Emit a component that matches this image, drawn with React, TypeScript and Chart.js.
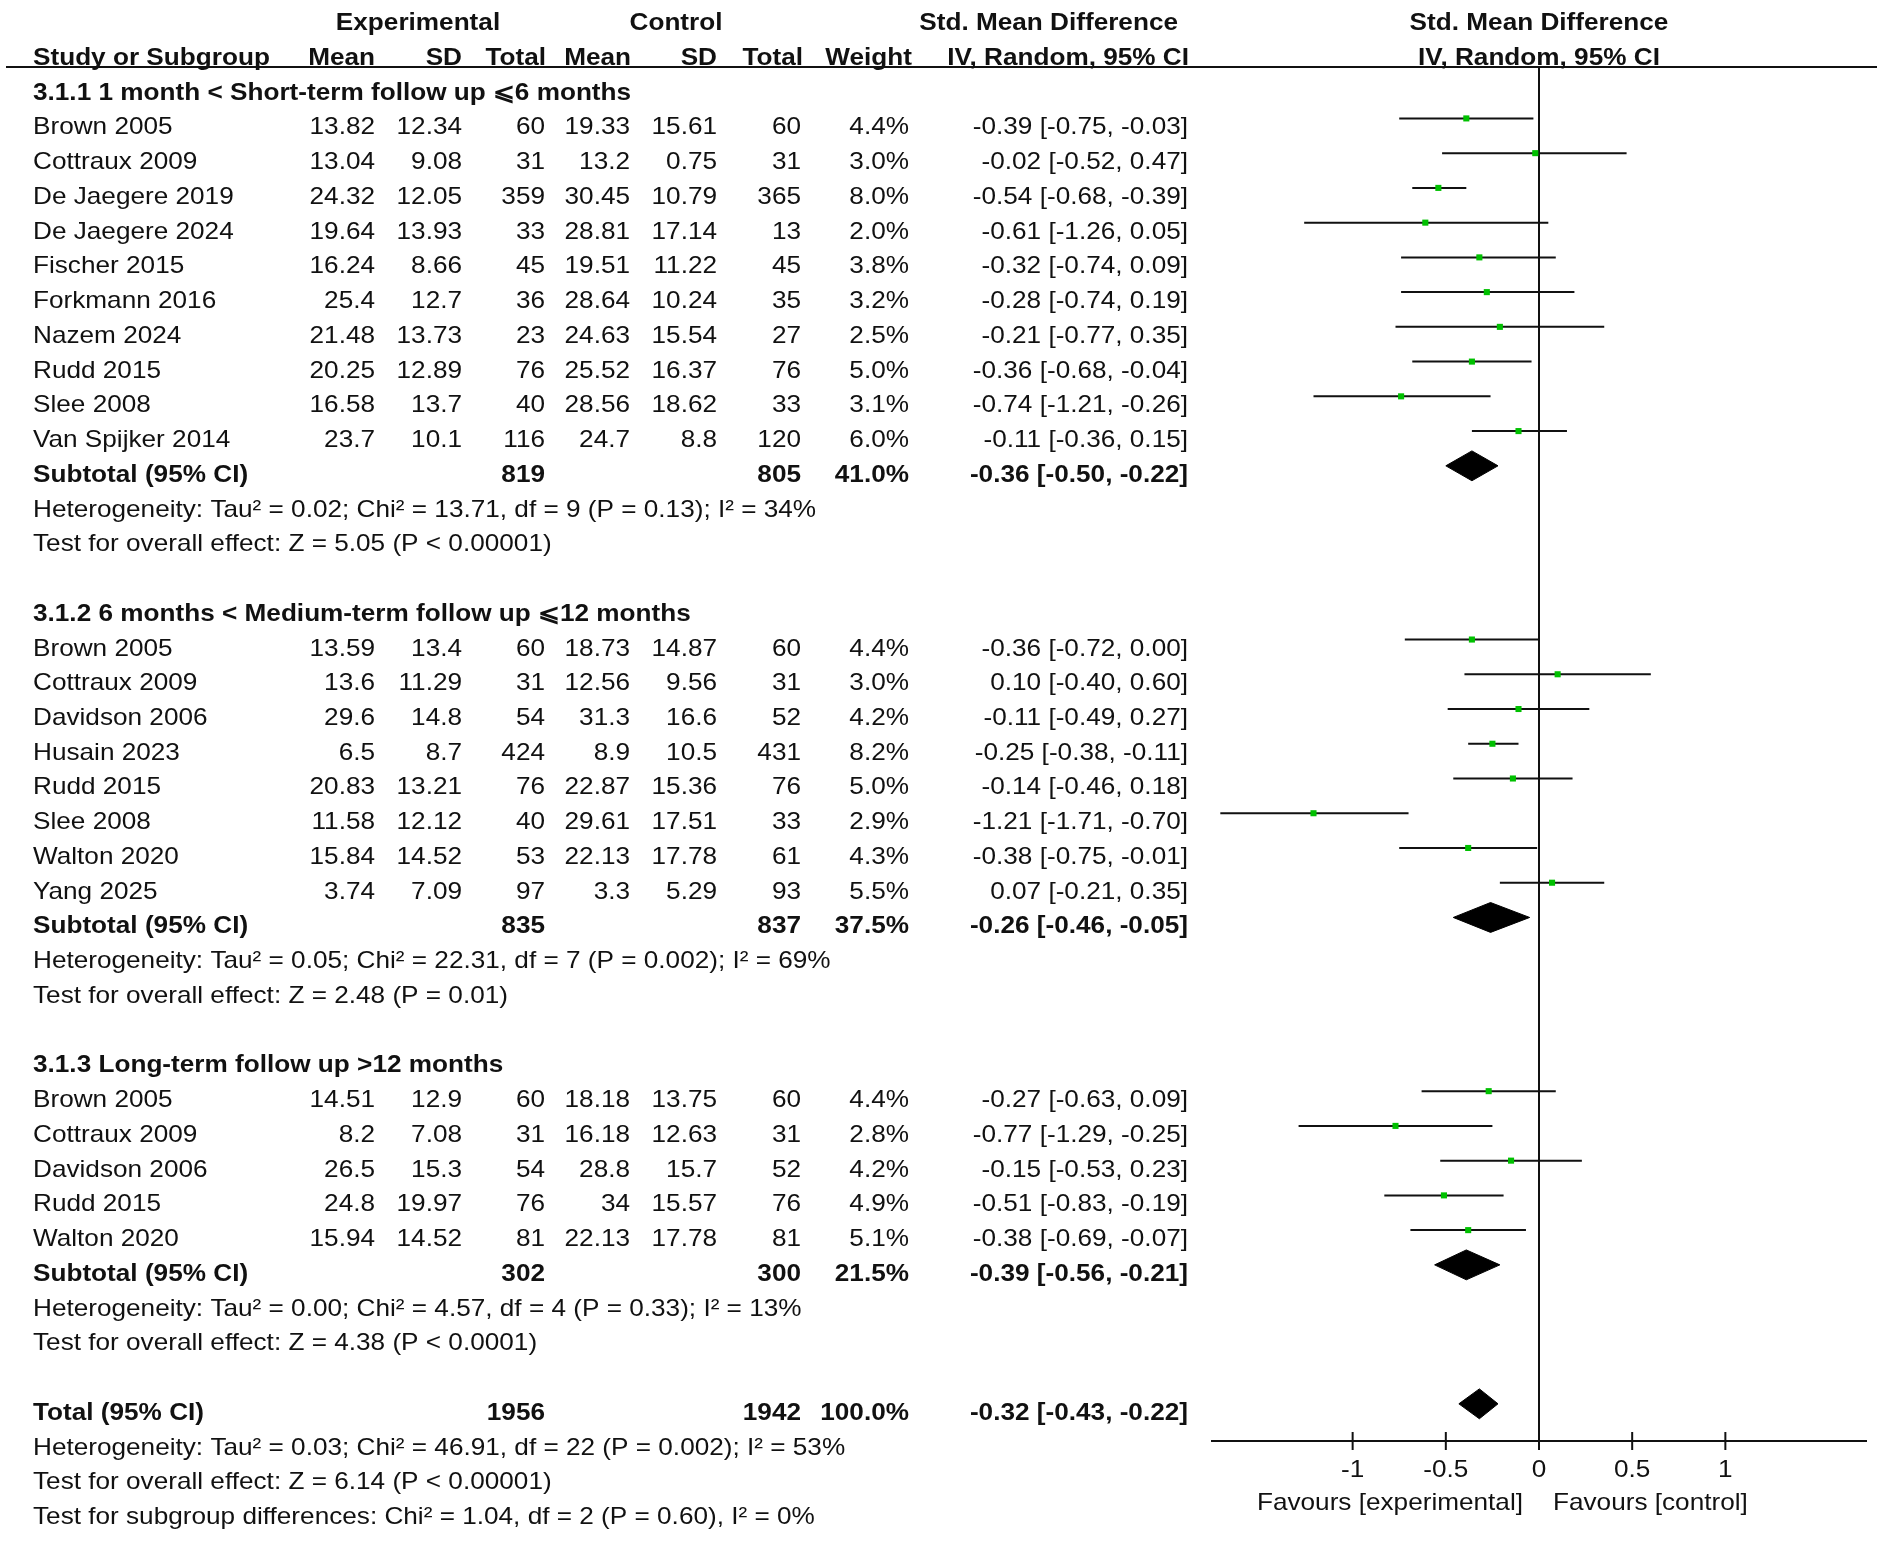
import React, { useEffect, useRef } from "react";
import { Chart, registerables } from "chart.js";

Chart.register(...registerables);

const W = 1901;
const H = 1544;

// ---------------- DATA ----------------
const groupTitles = [
  "3.1.1 1 month < Short-term follow up ⩽6 months",
  "3.1.2 6 months < Medium-term follow up ⩽12 months",
  "3.1.3 Long-term follow up >12 months",
];

const studyNames = [
  "Brown 2005", "Cottraux 2009", "De Jaegere 2019", "De Jaegere 2024", "Fischer 2015",
  "Forkmann 2016", "Nazem 2024", "Rudd 2015", "Slee 2008", "Van Spijker 2014",
  "Brown 2005", "Cottraux 2009", "Davidson 2006", "Husain 2023", "Rudd 2015",
  "Slee 2008", "Walton 2020", "Yang 2025",
  "Brown 2005", "Cottraux 2009", "Davidson 2006", "Rudd 2015", "Walton 2020",
];
const studyGroup = [0, 0, 0, 0, 0, 0, 0, 0, 0, 0, 1, 1, 1, 1, 1, 1, 1, 1, 2, 2, 2, 2, 2];

const expMean = [13.82, 13.04, 24.32, 19.64, 16.24, 25.4, 21.48, 20.25, 16.58, 23.7,
  13.59, 13.6, 29.6, 6.5, 20.83, 11.58, 15.84, 3.74,
  14.51, 8.2, 26.5, 24.8, 15.94];
const expSD = [12.34, 9.08, 12.05, 13.93, 8.66, 12.7, 13.73, 12.89, 13.7, 10.1,
  13.4, 11.29, 14.8, 8.7, 13.21, 12.12, 14.52, 7.09,
  12.9, 7.08, 15.3, 19.97, 14.52];
const expTotal = [60, 31, 359, 33, 45, 36, 23, 76, 40, 116,
  60, 31, 54, 424, 76, 40, 53, 97,
  60, 31, 54, 76, 81];
const ctlMean = [19.33, 13.2, 30.45, 28.81, 19.51, 28.64, 24.63, 25.52, 28.56, 24.7,
  18.73, 12.56, 31.3, 8.9, 22.87, 29.61, 22.13, 3.3,
  18.18, 16.18, 28.8, 34, 22.13];
const ctlSD = [15.61, 0.75, 10.79, 17.14, 11.22, 10.24, 15.54, 16.37, 18.62, 8.8,
  14.87, 9.56, 16.6, 10.5, 15.36, 17.51, 17.78, 5.29,
  13.75, 12.63, 15.7, 15.57, 17.78];
const ctlTotal = [60, 31, 365, 13, 45, 35, 27, 76, 33, 120,
  60, 31, 52, 431, 76, 33, 61, 93,
  60, 31, 52, 76, 81];
const weightPct = [4.4, 3.0, 8.0, 2.0, 3.8, 3.2, 2.5, 5.0, 3.1, 6.0,
  4.4, 3.0, 4.2, 8.2, 5.0, 2.9, 4.3, 5.5,
  4.4, 2.8, 4.2, 4.9, 5.1];
const smd = [-0.39, -0.02, -0.54, -0.61, -0.32, -0.28, -0.21, -0.36, -0.74, -0.11,
  -0.36, 0.10, -0.11, -0.25, -0.14, -1.21, -0.38, 0.07,
  -0.27, -0.77, -0.15, -0.51, -0.38];
const ciLow = [-0.75, -0.52, -0.68, -1.26, -0.74, -0.74, -0.77, -0.68, -1.21, -0.36,
  -0.72, -0.40, -0.49, -0.38, -0.46, -1.71, -0.75, -0.21,
  -0.63, -1.29, -0.53, -0.83, -0.69];
const ciHigh = [-0.03, 0.47, -0.39, 0.05, 0.09, 0.19, 0.35, -0.04, -0.26, 0.15,
  0.00, 0.60, 0.27, -0.11, 0.18, -0.70, -0.01, 0.35,
  0.09, -0.25, 0.23, -0.19, -0.07];

const subExpTotal = [819, 835, 302];
const subCtlTotal = [805, 837, 300];
const subWeight = [41.0, 37.5, 21.5];
const subSmd = [-0.36, -0.26, -0.39];
const subLow = [-0.50, -0.46, -0.56];
const subHigh = [-0.22, -0.05, -0.21];
const subHeterogeneity = [
  "Heterogeneity: Tau² = 0.02; Chi² = 13.71, df = 9 (P = 0.13); I² = 34%",
  "Heterogeneity: Tau² = 0.05; Chi² = 22.31, df = 7 (P = 0.002); I² = 69%",
  "Heterogeneity: Tau² = 0.00; Chi² = 4.57, df = 4 (P = 0.33); I² = 13%",
];
const subOverall = [
  "Test for overall effect: Z = 5.05 (P < 0.00001)",
  "Test for overall effect: Z = 2.48 (P = 0.01)",
  "Test for overall effect: Z = 4.38 (P < 0.0001)",
];

const totalExp = 1956;
const totalCtl = 1942;
const totalWeight = 100.0;
const totalSmd = -0.32;
const totalLow = -0.43;
const totalHigh = -0.22;
const totalNotes = [
  "Heterogeneity: Tau² = 0.03; Chi² = 46.91, df = 22 (P = 0.002); I² = 53%",
  "Test for overall effect: Z = 6.14 (P < 0.00001)",
  "Test for subgroup differences: Chi² = 1.04, df = 2 (P = 0.60), I² = 0%",
];

const axisTicks = [-1, -0.5, 0, 0.5, 1];
const favourLabels = ["Favours [experimental]", "Favours [control]"];
const headerGroups = ["Experimental", "Control", "Std. Mean Difference"];
const headerCols = ["Study or Subgroup", "Mean", "SD", "Total", "Mean", "SD", "Total", "Weight", "IV, Random, 95% CI"];

// ---------------- LAYOUT (row indices) ----------------
type Row =
  | { kind: "title"; line: number; text: string }
  | { kind: "study"; line: number; i: number }
  | { kind: "sub"; line: number; g: number }
  | { kind: "note"; line: number; text: string }
  | { kind: "total"; line: number };

const rows: Row[] = [];
let ln = 0;
for (let g = 0; g < groupTitles.length; g++) {
  rows.push({ kind: "title", line: ln++, text: groupTitles[g] });
  studyNames.forEach((_, i) => {
    if (studyGroup[i] === g) rows.push({ kind: "study", line: ln++, i });
  });
  rows.push({ kind: "sub", line: ln++, g });
  rows.push({ kind: "note", line: ln++, text: subHeterogeneity[g] });
  rows.push({ kind: "note", line: ln++, text: subOverall[g] });
  ln++;
}
rows.push({ kind: "total", line: ln++ });
totalNotes.forEach((t) => rows.push({ kind: "note", line: ln++, text: t }));

const studyLine = (i: number) => (rows.find((r) => r.kind === "study" && (r as any).i === i) as Row).line;
const subLine = (g: number) => (rows.find((r) => r.kind === "sub" && (r as any).g === g) as Row).line;
const totalLine = (rows.find((r) => r.kind === "total") as Row).line;

const fmtCI = (e: number, l: number, h: number) => `${e.toFixed(2)} [${l.toFixed(2)}, ${h.toFixed(2)}]`;

// ---------------- STYLE ----------------
const FONT = '"Liberation Sans", Arial, Helvetica, sans-serif';
const FS = 24;
const SX = 1.09;
const TXT = "#111111";
const GREEN = "#00c000";
const DIAMOND_H = 0.43;
const BASE_OFF = 16;
const colRight = [375, 462, 545, 630, 717, 801, 909, 1188];
const headRight = [375, 462, 546, 631, 717, 803, 912, 1189];
const LEFT = 33;

function drawText(ctx: CanvasRenderingContext2D, s: string, x: number, y: number, align: CanvasTextAlign, bold = false) {
  ctx.save();
  ctx.font = `${bold ? "bold " : ""}${FS}px ${FONT}`;
  ctx.fillStyle = TXT;
  ctx.textAlign = align;
  ctx.textBaseline = "alphabetic";
  ctx.translate(x, y);
  ctx.scale(SX, 1);
  ctx.fillText(s, 0, 0);
  ctx.restore();
}

const forestPlugin = {
  id: "forestTable",
  beforeDatasetsDraw(chart: any) {
    const { ctx, chartArea } = chart;
    const xs = chart.scales.x;
    const x0 = xs.getPixelForValue(0);
    ctx.save();
    ctx.strokeStyle = "#111";
    ctx.lineWidth = 2;
    // header rule
    ctx.beginPath();
    ctx.moveTo(6, chartArea.top);
    ctx.lineTo(1877, chartArea.top);
    ctx.stroke();
    // zero line
    ctx.beginPath();
    ctx.moveTo(x0, chartArea.top);
    ctx.lineTo(x0, chartArea.bottom);
    ctx.stroke();
    // axis
    ctx.beginPath();
    ctx.moveTo(chartArea.left, chartArea.bottom);
    ctx.lineTo(chartArea.right, chartArea.bottom);
    ctx.stroke();
    axisTicks.forEach((t) => {
      const px = xs.getPixelForValue(t);
      ctx.beginPath();
      ctx.moveTo(px, chartArea.bottom - 9);
      ctx.lineTo(px, chartArea.bottom + 9);
      ctx.stroke();
    });
    ctx.restore();
  },
  afterDraw(chart: any) {
    const { ctx, chartArea } = chart;
    const xs = chart.scales.x;
    const ys = chart.scales.y;
    const x0 = xs.getPixelForValue(0);
    const yb = (line: number) => ys.getPixelForValue(line) + BASE_OFF;

    // headers
    drawText(ctx, headerGroups[0], 418, yb(-2), "center", true);
    drawText(ctx, headerGroups[1], 676, yb(-2), "center", true);
    drawText(ctx, headerGroups[2], 1178, yb(-2), "right", true);
    drawText(ctx, headerGroups[2], x0, yb(-2), "center", true);
    drawText(ctx, headerCols[0], LEFT, yb(-1), "left", true);
    for (let c = 1; c < headerCols.length; c++) {
      drawText(ctx, headerCols[c], headRight[c - 1], yb(-1), "right", true);
    }
    drawText(ctx, headerCols[8], x0, yb(-1), "center", true);

    rows.forEach((r) => {
      const y = yb(r.line);
      if (r.kind === "title") {
        drawText(ctx, r.text, LEFT, y, "left", true);
      } else if (r.kind === "note") {
        drawText(ctx, r.text, LEFT, y, "left", false);
      } else if (r.kind === "study") {
        const i = r.i;
        drawText(ctx, studyNames[i], LEFT, y, "left");
        const vals = [
          String(expMean[i]), String(expSD[i]), String(expTotal[i]),
          String(ctlMean[i]), String(ctlSD[i]), String(ctlTotal[i]),
          `${weightPct[i].toFixed(1)}%`, fmtCI(smd[i], ciLow[i], ciHigh[i]),
        ];
        vals.forEach((v, c) => drawText(ctx, v, colRight[c], y, "right"));
      } else if (r.kind === "sub") {
        const g = r.g;
        drawText(ctx, "Subtotal (95% CI)", LEFT, y, "left", true);
        drawText(ctx, String(subExpTotal[g]), colRight[2], y, "right", true);
        drawText(ctx, String(subCtlTotal[g]), colRight[5], y, "right", true);
        drawText(ctx, `${subWeight[g].toFixed(1)}%`, colRight[6], y, "right", true);
        drawText(ctx, fmtCI(subSmd[g], subLow[g], subHigh[g]), colRight[7], y, "right", true);
      } else if (r.kind === "total") {
        drawText(ctx, "Total (95% CI)", LEFT, y, "left", true);
        drawText(ctx, String(totalExp), colRight[2], y, "right", true);
        drawText(ctx, String(totalCtl), colRight[5], y, "right", true);
        drawText(ctx, `${totalWeight.toFixed(1)}%`, colRight[6], y, "right", true);
        drawText(ctx, fmtCI(totalSmd, totalLow, totalHigh), colRight[7], y, "right", true);
      }
    });

    // axis tick labels
    axisTicks.forEach((t) => {
      drawText(ctx, String(t), xs.getPixelForValue(t), chartArea.bottom + 36, "center");
    });
    drawText(ctx, favourLabels[0], x0 - 16, chartArea.bottom + 69, "right");
    drawText(ctx, favourLabels[1], x0 + 14, chartArea.bottom + 69, "left");
  },
};

export default function App() {
  const ref = useRef<HTMLCanvasElement>(null);
  useEffect(() => {
    const squares = studyNames.map((_, i) => ({ x: smd[i], y: studyLine(i) }));
    const ciData: any[] = [];
    studyNames.forEach((_, i) => {
      const l = studyLine(i);
      ciData.push({ x: ciLow[i], y: l }, { x: ciHigh[i], y: l }, { x: ciHigh[i], y: null });
    });
    const diamond = (e: number, lo: number, hi: number, l: number) => [
      { x: lo, y: l }, { x: e, y: l - DIAMOND_H }, { x: hi, y: l }, { x: e, y: l + DIAMOND_H }, { x: lo, y: l },
    ];
    const diamonds = [
      ...subSmd.map((e, g) => diamond(e, subLow[g], subHigh[g], subLine(g))),
      diamond(totalSmd, totalLow, totalHigh, totalLine),
    ];

    const chart = new Chart(ref.current!, {
      type: "scatter",
      data: {
        datasets: [
          {
            type: "scatter",
            data: squares,
            pointStyle: "rect",
            pointRadius: 4.3,
            pointBorderWidth: 0,
            backgroundColor: GREEN,
            borderColor: GREEN,
          } as any,
          {
            type: "line",
            data: ciData,
            borderColor: "#111",
            borderWidth: 2,
            pointRadius: 0,
            tension: 0,
            spanGaps: false,
            fill: false,
          } as any,
          ...diamonds.map((d) => ({
            type: "line",
            data: d,
            borderColor: "#000",
            backgroundColor: "#000",
            borderWidth: 1,
            pointRadius: 0,
            tension: 0,
            fill: "shape",
          })) as any,
        ],
      },
      options: {
        responsive: false,
        animation: false,
        devicePixelRatio: 1,
        layout: { padding: { left: 1211, right: 34, top: 67, bottom: 103 } },
        scales: {
          x: { type: "linear", min: -1.76, max: 1.76, display: false },
          y: { type: "linear", min: -0.48, max: 39.07, reverse: true, display: false },
        },
        plugins: { legend: { display: false }, tooltip: { enabled: false } },
        events: [],
      },
      plugins: [forestPlugin],
    });
    return () => chart.destroy();
  }, []);
  return (
    <div style={{ position: "absolute", left: 0, top: 0, width: W, height: H, background: "#fff" }}>
      <canvas ref={ref} width={W} height={H} style={{ width: W, height: H, display: "block" }} />
    </div>
  );
}
